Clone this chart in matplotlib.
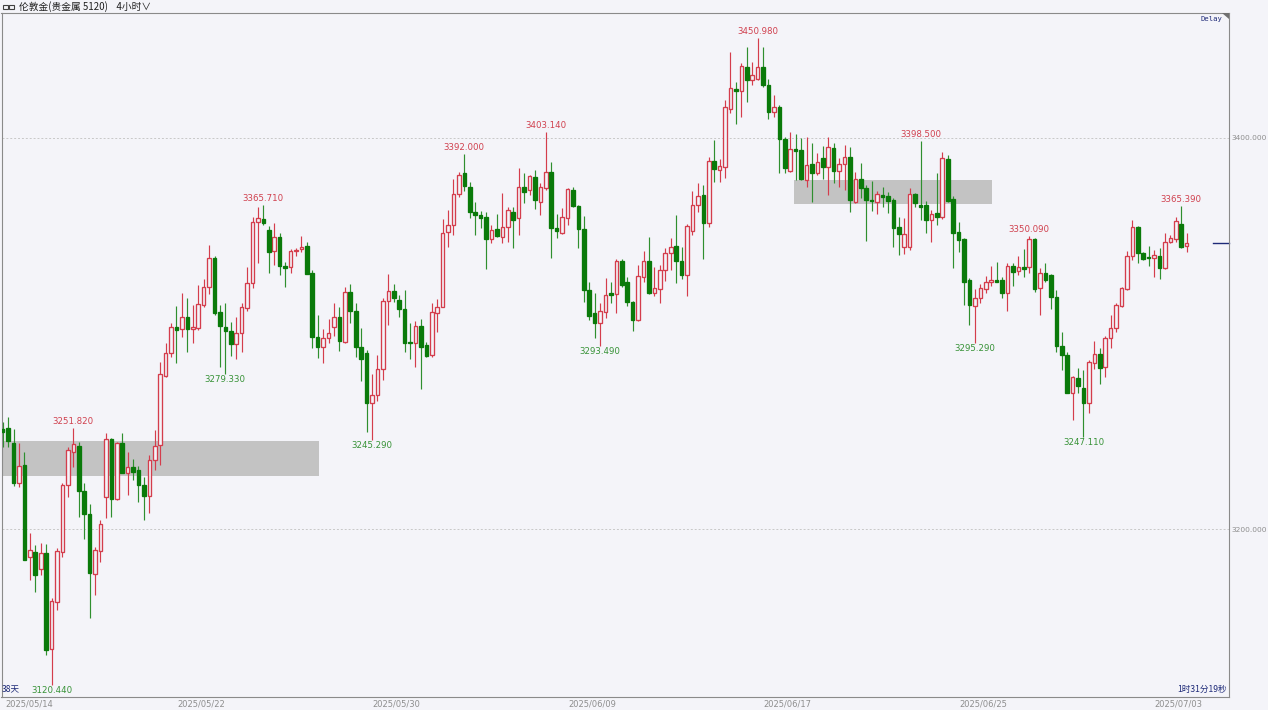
import numpy as np
import matplotlib
matplotlib.use("Agg")
import matplotlib.pyplot as plt
from matplotlib.patches import Rectangle, Polygon
from matplotlib.transforms import blended_transform_factory

# --- 4h candles, London gold ---
opens = [3251.0, 3251.8, 3243.8, 3223.7, 3232.6, 3185.8, 3188.1, 3179.4, 3187.9, 3138.5,
         3162.5, 3188.4, 3222.5, 3239.6, 3242.5, 3219.6, 3207.7, 3177.0, 3188.9, 3216.6,
         3245.9, 3215.2, 3244.2, 3228.8, 3231.5, 3230.2, 3222.3, 3216.9, 3235.3, 3243.0,
         3278.3, 3289.9, 3303.5, 3302.1, 3308.3, 3302.1, 3303.0, 3314.4, 3323.6, 3338.4,
         3311.2, 3303.5, 3301.1, 3294.6, 3300.4, 3312.9, 3326.0, 3356.9, 3358.4, 3352.9,
         3342.4, 3349.5, 3334.4, 3333.8, 3342.2, 3343.4, 3344.8, 3330.8, 3298.4, 3292.9,
         3297.5, 3303.2, 3308.3, 3295.8, 3321.4, 3311.7, 3293.3, 3290.2, 3264.3, 3268.5,
         3281.7, 3316.6, 3321.9, 3317.1, 3312.5, 3295.8, 3295.3, 3303.8, 3294.1, 3288.8,
         3310.7, 3313.7, 3352.1, 3355.3, 3371.4, 3381.9, 3375.1, 3362.3, 3360.4, 3359.4,
         3348.2, 3353.3, 3349.5, 3354.6, 3362.3, 3358.9, 3375.1, 3373.4, 3379.9, 3367.4,
         3374.3, 3382.8, 3353.8, 3351.6, 3358.9, 3373.4, 3365.2, 3353.3, 3322.3, 3310.3,
         3305.2, 3311.2, 3320.5, 3320.2, 3337.3, 3326.5, 3316.3, 3306.9, 3329.1, 3337.1,
         3320.5, 3322.6, 3332.5, 3341.0, 3344.8, 3337.3, 3329.9, 3352.6, 3365.7, 3370.8,
         3356.4, 3388.4, 3383.6, 3385.3, 3414.7, 3424.9, 3424.2, 3436.1, 3429.7, 3430.0,
         3436.1, 3427.1, 3413.5, 3415.7, 3399.3, 3383.3, 3394.2, 3393.9, 3378.5, 3386.7,
         3382.3, 3389.6, 3385.3, 3395.1, 3383.3, 3386.7, 3390.5, 3367.4, 3378.9, 3374.2,
         3368.3, 3367.4, 3370.8, 3370.3, 3368.3, 3354.3, 3344.1, 3344.1, 3371.4, 3365.7,
         3365.7, 3358.1, 3361.5, 3359.8, 3389.1, 3368.6, 3352.1, 3348.2, 3327.4, 3314.1,
         3318.0, 3322.6, 3326.5, 3327.4, 3327.4, 3320.5, 3334.5, 3332.1, 3333.8, 3333.8,
         3348.2, 3323.1, 3331.1, 3329.9, 3318.9, 3293.6, 3289.0, 3269.7, 3277.1, 3271.9,
         3264.6, 3285.1, 3289.5, 3283.0, 3297.5, 3302.6, 3314.1, 3322.6, 3339.6, 3354.3,
         3341.3, 3339.0, 3338.5, 3339.6, 3333.3, 3347.0, 3348.2, 3356.0, 3344.8]
highs = [3254.9, 3257.1, 3251.0, 3243.8, 3239.6, 3197.8, 3191.8, 3192.7, 3192.3, 3164.6,
         3190.1, 3223.4, 3242.1, 3251.82, 3244.7, 3223.4, 3212.8, 3191.0, 3204.6, 3248.9,
         3246.7, 3244.7, 3248.9, 3239.6, 3235.6, 3232.2, 3226.8, 3237.8, 3250.6, 3285.6,
         3295.3, 3305.2, 3314.1, 3320.5, 3318.0, 3314.6, 3324.8, 3327.7, 3345.3, 3339.6,
         3314.6, 3315.4, 3306.1, 3308.6, 3315.8, 3334.2, 3359.4, 3364.5, 3365.71, 3355.0,
         3356.3, 3351.6, 3336.7, 3343.0, 3343.6, 3349.9, 3347.0, 3332.5, 3309.5, 3302.3,
         3307.2, 3315.4, 3313.7, 3323.6, 3325.3, 3315.8, 3302.6, 3291.6, 3279.3, 3289.0,
         3318.0, 3330.4, 3325.3, 3319.7, 3322.3, 3305.2, 3306.6, 3307.2, 3295.8, 3315.8,
         3317.5, 3358.4, 3363.2, 3378.9, 3382.8, 3392.0, 3377.7, 3367.4, 3362.8, 3362.3,
         3355.5, 3361.1, 3372.0, 3364.9, 3364.9, 3384.5, 3381.9, 3381.1, 3383.6, 3377.2,
         3403.14, 3387.9, 3361.1, 3364.0, 3374.2, 3375.1, 3365.7, 3360.1, 3326.5, 3320.5,
         3315.4, 3328.2, 3326.5, 3337.9, 3337.9, 3329.1, 3316.8, 3335.0, 3342.4, 3349.2,
         3333.8, 3335.0, 3343.6, 3348.7, 3360.6, 3344.4, 3356.0, 3373.0, 3377.2, 3376.0,
         3390.1, 3399.0, 3389.1, 3419.4, 3444.2, 3428.8, 3438.5, 3446.7, 3439.0, 3450.98,
         3446.4, 3430.0, 3422.0, 3416.9, 3400.7, 3403.2, 3402.0, 3399.8, 3400.3, 3397.3,
         3392.2, 3395.9, 3400.3, 3397.6, 3389.6, 3396.4, 3395.6, 3382.8, 3387.4, 3375.9,
         3378.2, 3373.1, 3375.1, 3372.5, 3369.1, 3359.8, 3358.9, 3374.2, 3372.0, 3398.5,
         3367.9, 3363.2, 3381.9, 3393.0, 3391.3, 3370.3, 3357.2, 3348.7, 3328.2, 3322.6,
         3325.3, 3329.4, 3334.5, 3336.7, 3329.1, 3335.9, 3335.9, 3339.6, 3343.0, 3350.09,
         3348.7, 3333.3, 3336.2, 3330.4, 3322.3, 3300.9, 3290.7, 3278.3, 3282.2, 3281.3,
         3286.5, 3296.3, 3292.4, 3298.7, 3309.5, 3315.8, 3323.6, 3342.4, 3358.1, 3355.0,
         3341.9, 3344.8, 3342.7, 3343.6, 3351.2, 3350.4, 3359.4, 3365.39, 3351.2]
lows = [3242.1, 3242.1, 3222.0, 3221.3, 3184.1, 3173.9, 3168.0, 3176.5, 3135.6, 3120.44,
        3158.6, 3185.8, 3216.2, 3231.9, 3206.3, 3194.7, 3154.3, 3166.2, 3183.3, 3205.5,
        3206.3, 3214.8, 3228.5, 3217.4, 3225.1, 3214.0, 3204.6, 3208.0, 3230.2, 3232.7,
        3277.5, 3288.2, 3285.1, 3298.4, 3290.7, 3295.0, 3301.8, 3313.7, 3320.2, 3309.5,
        3282.7, 3279.33, 3288.7, 3286.8, 3290.7, 3311.7, 3323.1, 3335.9, 3355.5, 3330.8,
        3335.0, 3329.9, 3323.6, 3331.1, 3339.6, 3341.9, 3330.3, 3292.4, 3287.3, 3285.1,
        3295.0, 3298.7, 3291.2, 3295.0, 3305.2, 3288.2, 3275.9, 3249.8, 3245.29, 3265.6,
        3276.2, 3304.3, 3316.3, 3308.3, 3290.7, 3286.8, 3282.7, 3271.4, 3288.2, 3288.0,
        3300.9, 3313.4, 3344.4, 3350.4, 3370.0, 3373.1, 3358.9, 3350.4, 3353.8, 3332.8,
        3346.5, 3349.5, 3346.1, 3347.0, 3343.6, 3350.4, 3366.9, 3370.8, 3363.5, 3360.6,
        3373.4, 3338.4, 3348.7, 3350.9, 3355.5, 3364.5, 3343.6, 3316.3, 3306.9, 3297.5,
        3293.49, 3307.8, 3315.4, 3310.3, 3324.0, 3314.1, 3301.4, 3306.6, 3326.5, 3320.2,
        3319.2, 3315.4, 3327.0, 3332.5, 3325.7, 3327.7, 3319.2, 3350.4, 3362.3, 3338.0,
        3354.7, 3377.7, 3377.7, 3379.4, 3412.6, 3407.2, 3410.9, 3418.6, 3427.1, 3429.7,
        3426.3, 3409.6, 3410.6, 3381.9, 3382.3, 3382.8, 3378.5, 3378.5, 3375.1, 3367.0,
        3381.1, 3378.9, 3370.8, 3377.2, 3375.1, 3373.4, 3362.3, 3366.9, 3369.1, 3347.5,
        3362.8, 3361.1, 3364.5, 3361.8, 3344.4, 3340.1, 3340.7, 3342.7, 3364.5, 3358.1,
        3351.6, 3347.0, 3355.5, 3358.5, 3367.4, 3333.3, 3341.9, 3314.6, 3304.3, 3295.29,
        3315.8, 3320.5, 3324.3, 3326.5, 3318.0, 3311.7, 3324.3, 3329.9, 3329.1, 3330.8,
        3321.4, 3309.5, 3326.5, 3312.4, 3290.7, 3281.3, 3269.4, 3255.8, 3269.4, 3247.11,
        3259.2, 3281.7, 3274.2, 3277.9, 3292.4, 3300.9, 3313.8, 3322.3, 3337.6, 3336.2,
        3337.6, 3334.5, 3328.7, 3327.7, 3332.8, 3346.4, 3347.0, 3343.6, 3341.9]
closes = [3249.6, 3245.2, 3223.7, 3232.2, 3184.1, 3189.3, 3176.5, 3187.6, 3138.1, 3163.2,
          3188.9, 3222.5, 3240.4, 3243.3, 3219.6, 3207.5, 3177.3, 3189.3, 3202.4, 3246.0,
          3215.2, 3244.2, 3228.5, 3231.9, 3229.3, 3222.5, 3216.9, 3235.3, 3242.5, 3279.1,
          3289.9, 3303.5, 3301.8, 3308.3, 3302.1, 3303.1, 3314.9, 3323.6, 3338.4, 3310.3,
          3304.0, 3301.3, 3294.6, 3300.4, 3313.7, 3326.0, 3356.9, 3358.9, 3356.3, 3341.9,
          3349.5, 3334.5, 3333.7, 3342.2, 3342.7, 3344.4, 3330.3, 3298.4, 3292.9, 3297.5,
          3300.4, 3308.3, 3296.3, 3321.4, 3311.7, 3293.3, 3287.1, 3264.3, 3268.5, 3281.7,
          3316.8, 3321.9, 3318.0, 3312.5, 3295.3, 3295.3, 3303.8, 3292.9, 3288.5, 3311.2,
          3313.7, 3351.6, 3355.5, 3371.4, 3381.1, 3375.4, 3362.3, 3360.6, 3359.1, 3348.2,
          3352.9, 3349.9, 3354.3, 3363.2, 3358.1, 3375.1, 3372.5, 3380.6, 3368.3, 3374.8,
          3382.8, 3353.8, 3352.6, 3359.4, 3373.7, 3365.2, 3353.3, 3322.3, 3309.0, 3305.2,
          3311.7, 3319.7, 3319.7, 3337.3, 3324.8, 3316.3, 3306.9, 3329.4, 3337.1, 3320.9,
          3323.1, 3332.5, 3341.3, 3344.1, 3337.3, 3329.9, 3355.0, 3365.7, 3370.3, 3356.4,
          3388.4, 3384.0, 3385.7, 3415.7, 3425.4, 3424.2, 3436.8, 3429.7, 3432.2, 3436.5,
          3427.1, 3413.5, 3415.7, 3399.3, 3384.5, 3394.2, 3393.5, 3378.9, 3386.2, 3382.3,
          3387.7, 3385.3, 3395.2, 3383.3, 3386.7, 3390.5, 3368.3, 3378.9, 3374.2, 3368.3,
          3367.6, 3371.4, 3370.0, 3367.9, 3353.8, 3350.9, 3350.9, 3371.4, 3366.9, 3364.9,
          3358.1, 3361.1, 3359.8, 3389.6, 3367.9, 3351.2, 3347.8, 3326.5, 3314.6, 3318.0,
          3323.1, 3326.5, 3327.2, 3326.5, 3320.5, 3334.5, 3331.6, 3333.8, 3333.2, 3348.2,
          3322.6, 3331.1, 3327.4, 3318.5, 3293.6, 3289.0, 3269.7, 3277.6, 3273.1, 3264.6,
          3285.6, 3289.5, 3282.2, 3297.5, 3302.6, 3314.6, 3323.1, 3339.6, 3354.3, 3341.3,
          3337.9, 3338.5, 3340.0, 3333.3, 3347.0, 3348.7, 3357.7, 3344.4, 3346.1]

date_labels = ["2025/05/14", "2025/05/22", "2025/05/30", "2025/06/09",
               "2025/06/17", "2025/06/25", "2025/07/03"]
date_index = [0, 36, 72, 108, 144, 180, 216]   # candle where each day starts

high_marks = [13, 48, 85, 100, 139, 169, 189, 217]   # candles with labelled highs
low_marks = [9, 41, 68, 110, 179, 199]                # candles with labelled lows

# gray price zones: (first candle, last candle, low price, high price)
zones = [(-0.6, 58.3, 3227.1, 3245.2), (145.7, 182.1, 3366.0, 3378.3)]

y_ticks = [3200, 3400]

# colours
bg = "#f4f4f9"
red = "#d43d4c"
green = "#0a7a0a"
green_wick = "#2f8f2f"
navy = "#1e2a78"
gray_txt = "#8e8e8e"

W, H = 1268, 710
fig = plt.figure(figsize=(W / 100, H / 100), dpi=100, facecolor=bg)
ax = fig.add_axes([1.5 / W, 13 / H, 1227 / W, 684 / H], facecolor=bg)

o = np.array(opens)
h = np.array(highs)
l = np.array(lows)
c = np.array(closes)
x = np.arange(len(o))
up = c >= o

# wicks
ax.vlines(x[up], l[up], h[up], color=red, lw=0.85, zorder=2)
ax.vlines(x[~up], l[~up], h[~up], color=green_wick, lw=0.85, zorder=2)
# bodies (red hollow = up, green filled = down)
body = np.maximum(np.abs(c - o), 0.4)
ax.bar(x[up], body[up], bottom=o[up], width=0.66, facecolor=bg,
       edgecolor=red, lw=0.95, zorder=3)
ax.bar(x[~up], body[~up], bottom=c[~up], width=0.66, facecolor=green,
       edgecolor=green, lw=0.95, zorder=3)

for x0, x1, p0, p1 in zones:
    ax.add_patch(Rectangle((x0, p0), x1 - x0, p1 - p0, facecolor="#c3c3c3",
                           edgecolor="none", zorder=1))

for i in high_marks:
    ax.annotate(f"{h[i]:.3f}", (x[i], h[i]), xytext=(0, 2), textcoords="offset pixels",
                ha="center", va="bottom", fontsize=6.2, color="#d0404e", zorder=5)
for i in low_marks:
    ax.annotate(f"{l[i]:.3f}", (x[i], l[i]), xytext=(0, -1), textcoords="offset pixels",
                ha="center", va="top", fontsize=6.2, color="#379237", zorder=5)

ax.set_xlim(-0.22, 225.7)
ax.set_ylim(3114.1, 3463.9)

# current price marker
tr = blended_transform_factory(ax.transAxes, ax.transData)
ax.plot([0.9875, 1.0], [c[-1], c[-1]], transform=tr, color=navy, lw=1, clip_on=False)

ax.grid(axis="y", linestyle=(0, (2, 2)), color="#c8c8c8", lw=0.7)
ax.yaxis.tick_right()
ax.set_yticks(y_ticks)
ax.set_yticklabels([f"{v:.3f}" for v in y_ticks])
ax.set_xticks([i + 0.5 for i in date_index])
ax.set_xticklabels(date_labels)
ax.tick_params(length=0, labelsize=6, labelcolor=gray_txt)
ax.tick_params(axis="y", pad=2, labelsize=5.4)
ax.tick_params(axis="x", pad=2)
ax.get_xticklabels()[0].set_horizontalalignment("left")
ax.get_xticklabels()[0].set_x(-0.22)
for s in ax.spines.values():
    s.set_color("#8a8a8a")
    s.set_linewidth(0.8)

cjk = ["Noto Sans CJK SC", "DejaVu Sans"]
# header
fig.text(19 / W, 1 - 6.5 / H, "伦敦金(贵金属 5120)    4小时∨", family=cjk,
         fontsize=7, color="#202020", va="center", ha="left")
for xx in (3, 9):
    fig.patches.append(Rectangle((xx / W, 1 - 9 / H), 5 / W, 4 / H, transform=fig.transFigure,
                                 fill=False, edgecolor="#404040", lw=0.8))
fig.text(1222 / W, 1 - 19.5 / H, "Delay", family="DejaVu Sans Mono", fontsize=5.2,
         color=navy, ha="right", va="center")
fig.patches.append(Polygon([(1222 / W, 1 - 13 / H), (1228.5 / W, 1 - 13 / H),
                            (1228.5 / W, 1 - 19 / H)], closed=True,
                           transform=fig.transFigure, facecolor="#707070", edgecolor="none"))
fig.text(1.5 / W, 1 - 689 / H, "38天", family=cjk, fontsize=6.2, color=navy,
         ha="left", va="center")
fig.text(1227 / W, 1 - 689 / H, "1时31分19秒", family=cjk, fontsize=6.2, color=navy,
         ha="right", va="center")

fig.savefig("out.png", dpi=100, facecolor=bg)
